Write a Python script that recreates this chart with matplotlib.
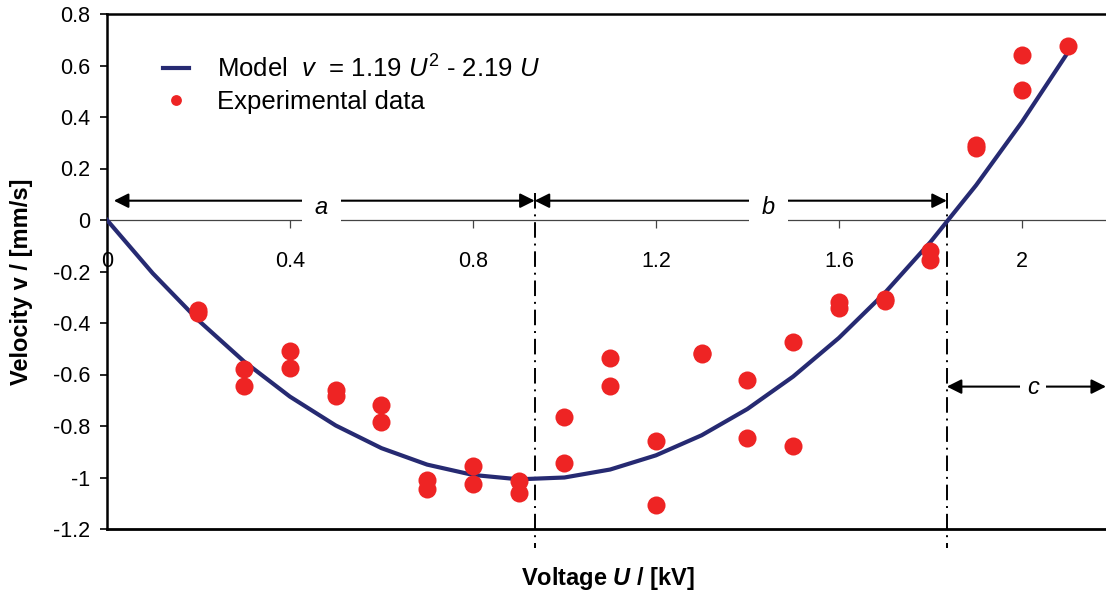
import matplotlib

matplotlib.use("Agg")
import matplotlib.pyplot as plt

plt.rcParams["font.family"] = "Liberation Sans"
plt.rcParams["mathtext.fontset"] = "custom"
plt.rcParams["mathtext.rm"] = "Liberation Sans"
plt.rcParams["mathtext.it"] = "Liberation Sans:italic"
plt.rcParams["mathtext.bf"] = "Liberation Sans:bold"
plt.rcParams["mathtext.bfit"] = "Liberation Sans:bold:italic"

# model curve v = 1.19 U^2 - 2.19 U, sampled every 0.1 kV
model_u = [0.0, 0.1, 0.2, 0.3, 0.4, 0.5, 0.6, 0.7, 0.8, 0.9, 1.0,
           1.1, 1.2, 1.3, 1.4, 1.5, 1.6, 1.7, 1.8, 1.9, 2.0, 2.1]
model_v = [0.0, -0.207, -0.390, -0.550, -0.686, -0.798, -0.886, -0.950, -0.990, -1.007, -1.000,
           -0.969, -0.914, -0.836, -0.734, -0.608, -0.458, -0.284, -0.086, 0.135, 0.380, 0.649]

# measured points (two runs per voltage)
exp_u = [0.2, 0.2, 0.3, 0.3, 0.4, 0.4, 0.5, 0.5, 0.6, 0.6, 0.7, 0.7, 0.8, 0.8, 0.9, 0.9,
         1.0, 1.0, 1.1, 1.1, 1.2, 1.2, 1.3, 1.3, 1.4, 1.4, 1.5, 1.5, 1.6, 1.6, 1.7, 1.7,
         1.8, 1.8, 1.9, 1.9, 2.0, 2.0, 2.1]
exp_v = [-0.35, -0.36, -0.58, -0.645, -0.51, -0.575, -0.66, -0.685, -0.72, -0.785,
         -1.01, -1.045, -0.955, -1.025, -1.015, -1.06, -0.765, -0.945, -0.535, -0.645,
         -0.86, -1.105, -0.515, -0.52, -0.62, -0.845, -0.475, -0.878, -0.318, -0.343,
         -0.305, -0.315, -0.12, -0.155, 0.28, 0.29, 0.642, 0.505, 0.677]

x_ticks = [0.0, 0.4, 0.8, 1.2, 1.6, 2.0]
x_tick_labels = ["0", "0.4", "0.8", "1.2", "1.6", "2"]
y_ticks = [0.8, 0.6, 0.4, 0.2, 0.0, -0.2, -0.4, -0.6, -0.8, -1.0, -1.2]
y_tick_labels = ["0.8", "0.6", "0.4", "0.2", "0", "-0.2", "-0.4", "-0.6", "-0.8", "-1", "-1.2"]

# regions a, b, c: minimum of the model and its zero crossing
region_edges = [0.015, 0.935, 1.836, 2.184]
region_labels = ["a", "b", "c"]
region_label_x = [0.468, 1.446, 2.025]
region_arrow_y = [0.075, 0.075, -0.647]

CURVE = "#262a72"
DOTS = "#ee2424"

fig = plt.figure(figsize=(11.06, 5.94), dpi=100)
ax = fig.add_axes([107 / 1106, 65 / 594, 999 / 1106, 515 / 594])
ax.set_xlim(0, 2.184)
ax.set_ylim(-1.2, 0.8)

ax.plot(model_u, model_v, color=CURVE, lw=3, zorder=3,
        label=r"Model  $v$  = 1.19 $U^2$ - 2.19 $U$")
ax.plot(exp_u, exp_v, "o", color=DOTS, ms=13, mec="none", zorder=4,
        label="Experimental data")

# spines: x axis through zero, thick frame on left/top/bottom
ax.spines["right"].set_visible(False)
ax.spines["bottom"].set_position(("data", 0))
ax.spines["bottom"].set_color("#444444")
ax.spines["bottom"].set_linewidth(0.9)
ax.spines["left"].set_linewidth(1.8)
ax.spines["top"].set_linewidth(1.8)
ax.axhline(-1.2, color="black", lw=2.0, clip_on=False, zorder=5)

ax.set_xticks(x_ticks, x_tick_labels)
ax.set_yticks(y_ticks, y_tick_labels)
ax.tick_params(axis="x", direction="out", length=6, width=0.9, color="#444444",
               pad=16, labelsize=15.5)
ax.tick_params(axis="y", direction="out", length=5, width=1.2, pad=7, labelsize=15.5)

# region boundaries
for edge in region_edges[1:3]:
    ax.plot([edge, edge], [0.105, -1.275], color="black", lw=1.4,
            ls=(0, (8, 3, 1, 3)), clip_on=False, zorder=2)

for i, name in enumerate(region_labels):
    y = region_arrow_y[i]
    ax.annotate("", xy=(region_edges[i + 1], y), xytext=(region_edges[i], y),
                arrowprops=dict(arrowstyle="<|-|>", color="black", lw=1.5,
                                shrinkA=0, shrinkB=0, mutation_scale=22),
                annotation_clip=False, zorder=3)
    label_y = y - 0.025 if y > 0 else y - 0.005
    pad = 0.55 if y > 0 else 0.3
    ax.text(region_label_x[i], label_y, name, style="italic", fontsize=17,
            ha="center", va="center", zorder=3.5,
            bbox=dict(facecolor="white", edgecolor="none", boxstyle=f"square,pad={pad}"))

ax.legend(loc="upper left", bbox_to_anchor=(163 / 1106, 1 - 55 / 594),
          bbox_transform=fig.transFigure, frameon=False, fontsize=18.5,
          handlelength=1.0, handletextpad=1.1, labelspacing=0.3,
          borderpad=0, borderaxespad=0, markerscale=0.6)

fig.text(608 / 1106, 1 - 578 / 594, r"Voltage $\mathbfit{U}$ / [kV]", fontsize=17,
         fontweight="bold", ha="center", va="center")
fig.text(22 / 1106, 1 - 282 / 594, "Velocity v / [mm/s]", fontsize=17,
         fontweight="bold", ha="center", va="center", rotation=90)

fig.savefig("out.png", dpi=100)
